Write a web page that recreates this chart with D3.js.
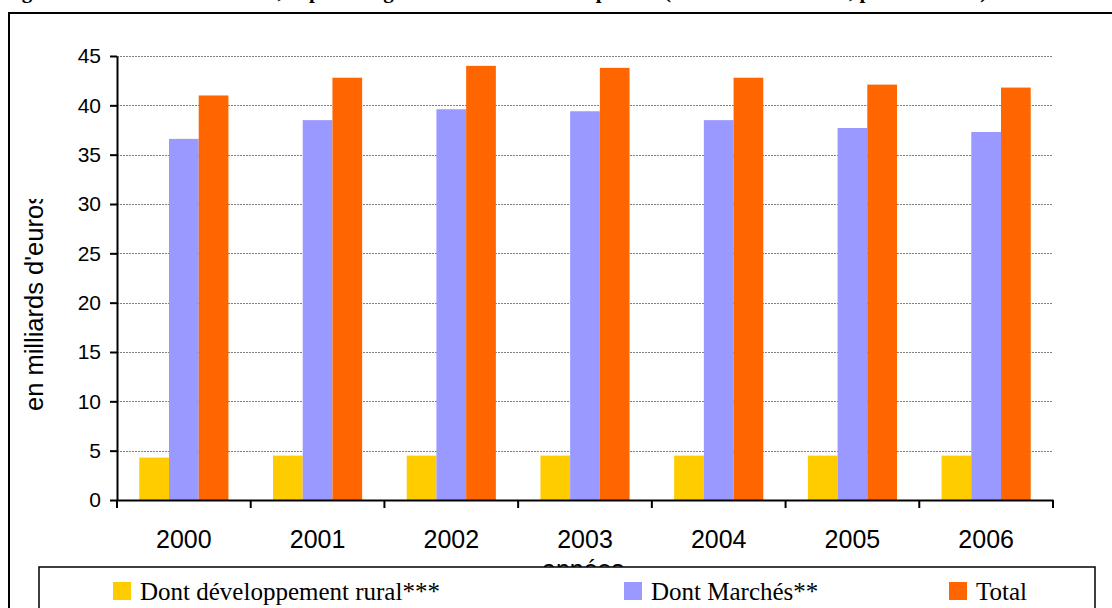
<!DOCTYPE html>
<html>
<head>
<meta charset="utf-8">
<script src="https://cdn.jsdelivr.net/npm/d3@7"></script>
<style>
  html, body { margin: 0; padding: 0; background: #fff; }
  svg { display: block; }
</style>
</head>
<body>
<svg id="chart" width="1112" height="608"></svg>
<script>
const years = ["2000", "2001", "2002", "2003", "2004", "2005", "2006"];
const rural = [4.3, 4.5, 4.5, 4.5, 4.5, 4.5, 4.5];
const marches = [36.6, 38.5, 39.6, 39.4, 38.5, 37.7, 37.3];
const total = [41.0, 42.8, 44.0, 43.8, 42.8, 42.1, 41.8];
const yTicks = [0, 5, 10, 15, 20, 25, 30, 35, 40, 45];
const seriesNames = ["Dont développement rural***", "Dont Marchés**", "Total"];
const seriesColors = ["#FFCC00", "#9999FF", "#FF6600"];
const titleText = "Figure 2 : Évolution de la PAC, dépenses agricoles de l'Union européenne (en milliards d'euros, prix courants)";
const yTitle = "en milliards d'euros";
const xTitle = "années";

const series = [rural, marches, total];

(function draw() {
const svg = d3.select("#chart");
const pLeft = 117, pRight = 1053, pTop = 56, pBottom = 500;
const sans = "'Liberation Sans', Arial, sans-serif";
const serif = "'Liberation Serif', 'Times New Roman', serif";

// title (mostly cut off at the top, as in the reference)
svg.append("text")
  .attr("x", 3).attr("y", -2.5)
  .attr("font-family", serif)
  .attr("font-weight", "bold")
  .attr("font-size", 21)
  .attr("fill", "#000")
  .text(titleText);

// outer frame
svg.append("rect")
  .attr("x", 9).attr("y", 13)
  .attr("width", 1300).attr("height", 800)
  .attr("fill", "none").attr("stroke", "#000").attr("stroke-width", 2);

const x0 = d3.scaleBand().domain(years).range([pLeft, pRight]).paddingInner(0).paddingOuter(0);
const x1 = d3.scaleBand().domain(d3.range(series.length)).range([0, x0.bandwidth()]).paddingInner(0).paddingOuter(0.75);
const y = d3.scaleLinear().domain([0, 45]).range([pBottom, pTop]);

// gridlines
svg.append("g").selectAll("line")
  .data(yTicks.filter(d => d > 0))
  .join("line")
  .attr("x1", pLeft).attr("x2", pRight)
  .attr("y1", d => Math.round(y(d)) + 0.5).attr("y2", d => Math.round(y(d)) + 0.5)
  .attr("stroke", "#808080").attr("stroke-width", 1)
  .attr("stroke-dasharray", "2,1");

// bars
const groups = svg.append("g").selectAll("g")
  .data(years)
  .join("g")
  .attr("transform", d => `translate(${x0(d)},0)`);

groups.selectAll("rect")
  .data((d, i) => series.map((s, k) => ({ k, v: s[i] })))
  .join("rect")
  .attr("x", d => x1(d.k))
  .attr("width", x1.bandwidth())
  .attr("y", d => y(d.v))
  .attr("height", d => y(0) - y(d.v))
  .attr("fill", d => seriesColors[d.k]);

// y axis
const yAxis = svg.append("g")
  .attr("transform", `translate(${pLeft},0)`)
  .call(d3.axisLeft(y).tickValues(yTicks).tickSize(7).tickSizeOuter(0).tickPadding(9));
yAxis.select(".domain").attr("stroke", "#000").attr("stroke-width", 2);
yAxis.selectAll(".tick line").attr("stroke", "#000").attr("stroke-width", 2);
yAxis.selectAll(".tick text")
  .attr("font-family", sans)
  .attr("font-size", 21).attr("fill", "#000");

// x axis
const xAxis = svg.append("g")
  .attr("transform", `translate(0,${pBottom})`)
  .call(d3.axisBottom(x0).tickSize(0).tickSizeOuter(0).tickPadding(30));
xAxis.select(".domain").attr("stroke", "#000").attr("stroke-width", 2);
xAxis.selectAll(".tick text")
  .attr("font-family", sans)
  .attr("font-size", 25).attr("fill", "#000");

// x tick marks at category boundaries
const boundaries = years.map(d => x0(d)).concat([x0(years[years.length - 1]) + x0.bandwidth()]);
svg.append("g").selectAll("line")
  .data(boundaries)
  .join("line")
  .attr("x1", d => d).attr("x2", d => d)
  .attr("y1", pBottom).attr("y2", pBottom + 8)
  .attr("stroke", "#000").attr("stroke-width", 2);

// y axis title (clipped at its end, as in the reference)
svg.append("clipPath").attr("id", "ytclip")
  .append("rect").attr("x", 0).attr("y", 199).attr("width", 100).attr("height", 400);
svg.append("g")
  .attr("clip-path", "url(#ytclip)")
  .append("text")
  .attr("transform", "translate(43,411) rotate(-90)")
  .attr("font-family", sans)
  .attr("font-size", 25.5)
  .attr("fill", "#000")
  .text(yTitle);

// x axis title (hidden behind legend)
svg.append("text")
  .attr("x", 583).attr("y", 578)
  .attr("text-anchor", "middle")
  .attr("font-family", sans)
  .attr("font-size", 25)
  .attr("fill", "#000")
  .text(xTitle);

// legend
svg.append("rect")
  .attr("x", 39).attr("y", 567)
  .attr("width", 1056).attr("height", 80)
  .attr("fill", "#fff").attr("stroke", "#000").attr("stroke-width", 1.5);

const legendX = [113, 624, 949];
const leg = svg.append("g").selectAll("g")
  .data(seriesNames)
  .join("g")
  .attr("transform", (d, i) => `translate(${legendX[i]},0)`);
leg.append("rect")
  .attr("x", 0).attr("y", 582).attr("width", 18).attr("height", 18)
  .attr("fill", (d, i) => seriesColors[i]);
leg.append("text")
  .attr("x", 27).attr("y", 600)
  .attr("font-family", serif)
  .attr("font-size", 25)
  .attr("fill", "#000")
  .text(d => d);
})();
</script>
</body>
</html>
